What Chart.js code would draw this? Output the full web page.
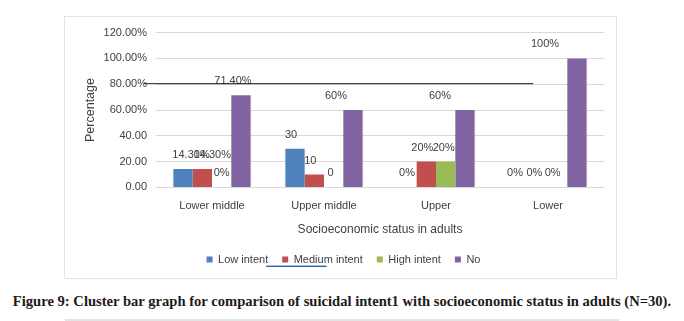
<!DOCTYPE html>
<html lang="en">
<head>
    <meta charset="UTF-8">
    <title>Cluster bar graph</title>
    <style>
        body {
            margin: 0;
            background: #fff;
            width: 684px;
            height: 321px;
            position: relative;
            overflow: hidden;
        }
        #box {
            position: absolute;
            left: 64px;
            top: 16px;
            width: 553px;
            height: 263px;
            border: 1px solid #e3e3e3;
            box-sizing: border-box;
        }
        #caption {
            position: absolute;
            left: 0;
            top: 293px;
            width: 684px;
            text-align: center;
            font-family: 'Liberation Serif', serif;
            font-weight: bold;
            font-size: 14.6px;
            color: #1f1a17;
            white-space: nowrap;
        }
        #rule {
            position: absolute;
            left: 65px;
            top: 319px;
            width: 554px;
            height: 2px;
            background: #e3e3e3;
        }
    </style>
    <script src="https://cdn.jsdelivr.net/npm/chart.js"></script>
</head>
<body>
    <div id="box"><canvas id="chart"></canvas></div>
    <div id="caption">Figure 9: Cluster bar graph for comparison of suicidal intent1 with socioeconomic status in adults (N=30).</div>
    <div id="rule"></div>

    <script>
        const categories = ['Lower middle', 'Upper middle', 'Upper', 'Lower'];
        const seriesNames = ['Low intent', 'Medium intent', 'High intent', 'No'];
        const lowIntent = [14.3, 30, 0, 0];
        const mediumIntent = [14.3, 10, 20, 0];
        const highIntent = [0, 0, 20, 0];
        const noIntent = [71.4, 60, 60, 100];
        // labels exactly as printed on the figure
        const lowLabels = ['14.30%', '30', '0%', '0%'];
        const mediumLabels = ['14.30%', '10', '20%', '0%'];
        const highLabels = ['0%', '0', '20%', '0%'];
        const noLabels = ['71.40%', '60%', '60%', '100%'];
        const yTickLabels = ['0.00', '20.00', '40.00', '60.00%', '80.00%', '100.00%', '120.00%'];
        const colors = ['#4f81bd', '#c0504d', '#9bbb59', '#8064a2'];

        const values = [lowIntent, mediumIntent, highIntent, noIntent];
        const valueLabels = [lowLabels, mediumLabels, highLabels, noLabels];
        // small horizontal nudges of the value labels, like in the original
        const labelNudge = [[8, -4, 0, -4], [10, -4, -4, -4], [0, -3, -2, -5], [-8, -17, -25, -32]];

        const valueLabelPlugin = {
            id: 'valueLabels',
            afterDatasetsDraw(chart) {
                const ctx = chart.ctx;
                ctx.save();
                ctx.font = '11px "Liberation Sans", Arial, sans-serif';
                ctx.fillStyle = '#404040';
                ctx.textAlign = 'center';
                ctx.textBaseline = 'middle';
                chart.data.datasets.forEach((ds, i) => {
                    chart.getDatasetMeta(i).data.forEach((bar, j) => {
                        ctx.fillText(valueLabels[i][j], bar.x + labelNudge[i][j], bar.y - 14);
                    });
                });
                ctx.restore();
            }
        };

        // the stray lines that sit on the original picture
        const strayLinesPlugin = {
            id: 'strayLines',
            afterDraw(chart) {
                const ctx = chart.ctx;
                const area = chart.chartArea;
                const y = chart.scales.y.getPixelForValue(80);
                ctx.save();
                ctx.strokeStyle = '#1a1a1a';
                ctx.lineWidth = 1;
                ctx.beginPath();
                ctx.moveTo(area.left - 12, y - 0.5);
                ctx.lineTo(area.left + (area.right - area.left) * 0.842, y - 0.5);
                ctx.stroke();

                const hit = chart.legend.legendHitBoxes;
                if (hit && hit.length > 1) {
                    const x0 = hit[0].left + hit[0].width - 2;
                    const x1 = hit[1].left + hit[1].width * 0.55;
                    const ly = hit[1].top + hit[1].height;
                    ctx.strokeStyle = '#9fc3e8';
                    ctx.beginPath();
                    ctx.moveTo(x0, ly + 0.5);
                    ctx.lineTo(x1, ly + 0.5);
                    ctx.stroke();
                    ctx.strokeStyle = '#2f5fa8';
                    ctx.beginPath();
                    ctx.moveTo(x0, ly + 1.5);
                    ctx.lineTo(x1, ly + 1.5);
                    ctx.stroke();
                }
                ctx.restore();
            }
        };

        const font = '"Liberation Sans", Arial, sans-serif';

        new Chart(document.getElementById('chart'), {
            type: 'bar',
            data: {
                labels: categories,
                datasets: values.map((v, i) => ({
                    label: seriesNames[i],
                    data: v,
                    backgroundColor: colors[i],
                    borderWidth: 0,
                    barPercentage: 1,
                    categoryPercentage: 0.69
                }))
            },
            options: {
                responsive: true,
                maintainAspectRatio: false,
                animation: false,
                layout: { padding: { left: 18, right: 12, top: 9, bottom: 3 } },
                plugins: {
                    tooltip: { enabled: false },
                    legend: {
                        position: 'bottom',
                        labels: {
                            boxWidth: 6,
                            boxHeight: 6,
                            padding: 14,
                            color: '#404040',
                            font: { family: font, size: 11 }
                        }
                    }
                },
                scales: {
                    x: {
                        grid: { display: false },
                        border: { display: false },
                        ticks: { color: '#404040', font: { family: font, size: 11 }, padding: 4 },
                        title: {
                            display: true,
                            text: 'Socioeconomic status in adults',
                            color: '#404040',
                            font: { family: font, size: 12 },
                            padding: { top: 6, bottom: 3 }
                        }
                    },
                    y: {
                        min: 0,
                        max: 120,
                        afterFit(scale) { scale.width = 73; },
                        grid: { color: '#d9d9d9', drawTicks: false },
                        border: { display: false },
                        ticks: {
                            stepSize: 20,
                            padding: 9,
                            color: '#404040',
                            font: { family: font, size: 11 },
                            callback: (v) => yTickLabels[v / 20]
                        },
                        title: {
                            display: true,
                            text: 'Percentage',
                            color: '#404040',
                            font: { family: font, size: 12.5 },
                            padding: { top: 0, bottom: 0 }
                        }
                    }
                }
            },
            plugins: [valueLabelPlugin, strayLinesPlugin]
        });
    </script>
</body>
</html>
